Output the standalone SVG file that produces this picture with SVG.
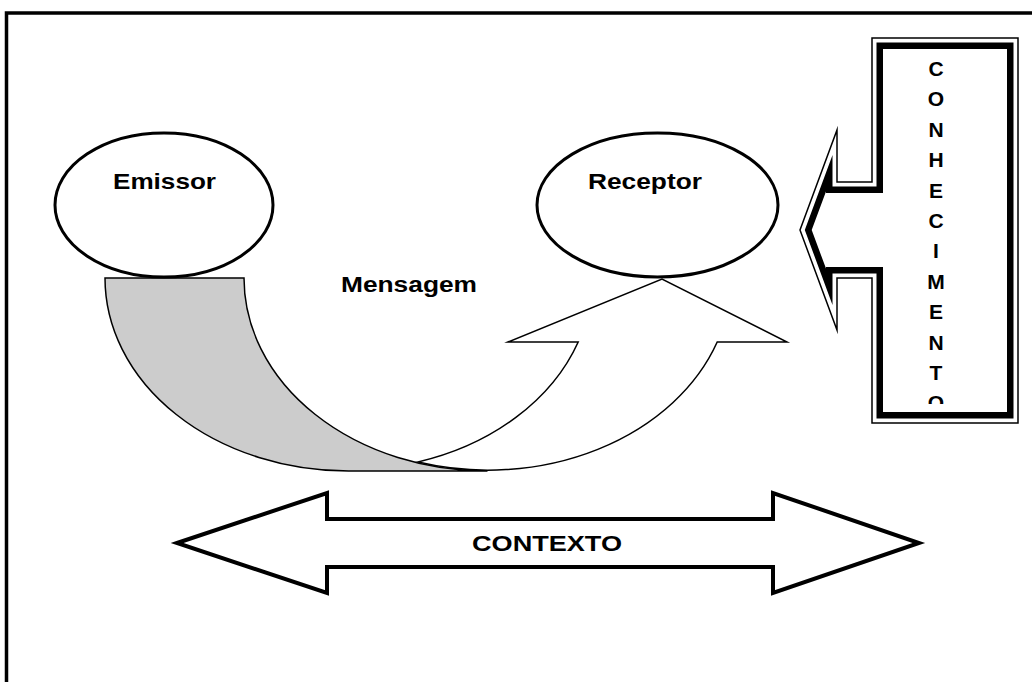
<svg xmlns="http://www.w3.org/2000/svg" width="1032" height="682" viewBox="0 0 1032 682">
<defs>
<style>
.lbl{font-family:"Liberation Sans",Arial,sans-serif;font-weight:bold;font-size:22px;fill:#000}
.vl{font-family:"Liberation Sans",Arial,sans-serif;font-weight:bold;font-size:21px;fill:#000;text-anchor:middle}
.ell{fill:#fff;stroke:#000;stroke-width:3}
.thin{stroke:#000;stroke-width:1.5;stroke-linejoin:miter;stroke-miterlimit:10}
</style>
<clipPath id="clipK"><rect x="884" y="50" width="122" height="354"/></clipPath>
</defs>
<rect width="1032" height="682" fill="#fff"/>
<g id="border"><path d="M6.5,690 V13 H1040" fill="none" stroke="#000" stroke-width="3.5"/></g>

<g id="connectors">
<g id="mensagem-arrow">
<path class="thin" fill="#cccccc" d="M105,278 L244,278 A243.5,193 0 0 0 487.5,471 L348.5,471 A243.5,193 0 0 1 105,278 Z"/>
<path class="thin" fill="#fff" d="M418,462 A243.5,193 0 0 0 578.2,342 L508,342 L662,279 L787,342 L717.2,342 A243.5,193 0 0 1 418,462 Z"/>
</g>
<text class="lbl" x="341" y="292" textLength="136" lengthAdjust="spacingAndGlyphs">Mensagem</text>
</g>

<g id="node-emissor">
<ellipse class="ell" cx="164" cy="205" rx="109" ry="72"/>
<text class="lbl" x="113" y="189" textLength="103" lengthAdjust="spacingAndGlyphs">Emissor</text>
</g>

<g id="node-receptor">
<ellipse class="ell" cx="657.5" cy="205" rx="120.5" ry="72"/>
<text class="lbl" x="588" y="189" textLength="114" lengthAdjust="spacingAndGlyphs">Receptor</text>
</g>

<g id="node-conhecimento">
<path class="thin" fill="#fff" d="M872,38 H1018 V423 H872 V278 H837 V330 L800,230 L837,130 V182 H872 Z"/>
<path fill="#000" fill-rule="evenodd" d="M876.5,42.5 H1013.5 V418.5 H876.5 V273.5 H832.5 V304.9 L804.8,230 L832.5,155.1 V186.5 H876.5 Z M883,49 V193 H826 V191.4 L811.7,230 L826,268.6 V267 H883 V412 H1007 V49 Z"/>
<g clip-path="url(#clipK)">
<text class="vl" x="936" y="76">C</text>
<text class="vl" x="936" y="106.4">O</text>
<text class="vl" x="936" y="136.8">N</text>
<text class="vl" x="936" y="167.2">H</text>
<text class="vl" x="936" y="197.6">E</text>
<text class="vl" x="936" y="228">C</text>
<text class="vl" x="936" y="258.4">I</text>
<text class="vl" x="936" y="288.8">M</text>
<text class="vl" x="936" y="319.2">E</text>
<text class="vl" x="936" y="349.6">N</text>
<text class="vl" x="936" y="380">T</text>
<text class="vl" x="936" y="410.4">O</text>
</g>
</g>

<g id="node-contexto">
<path d="M177,543 L327,493 V519 H773 V493 L919,543 L773,593 V567 H327 V593 Z" fill="#fff" stroke="#000" stroke-width="4" stroke-linejoin="miter" stroke-miterlimit="10"/>
<text class="lbl" x="472" y="551" textLength="150" lengthAdjust="spacingAndGlyphs">CONTEXTO</text>
</g>
</svg>
